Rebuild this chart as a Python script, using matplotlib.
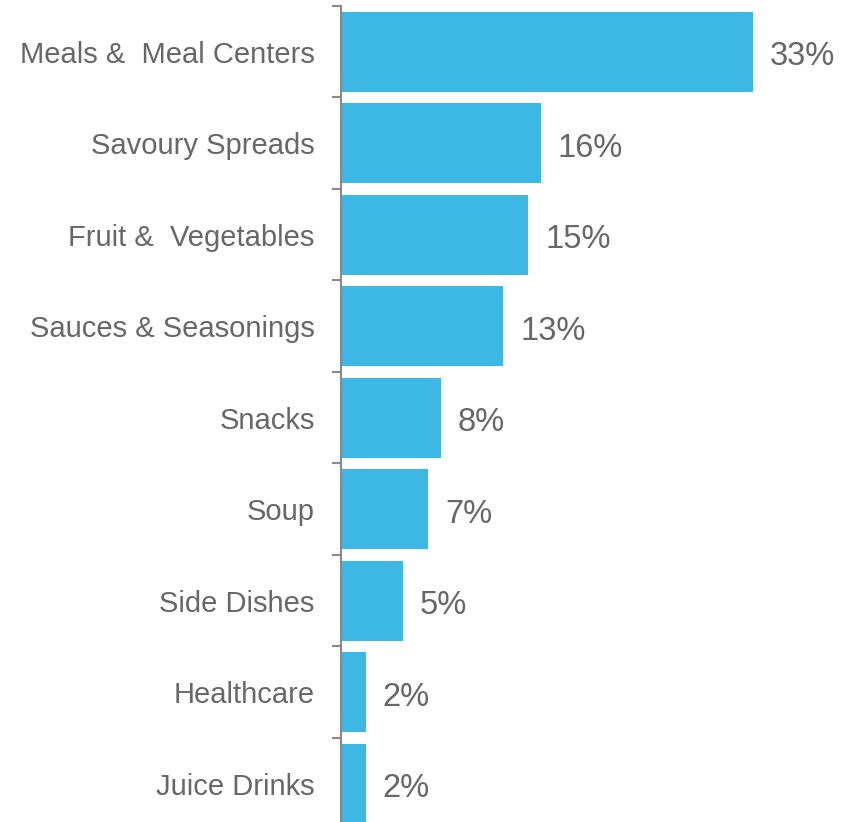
import matplotlib
matplotlib.use("Agg")
import matplotlib.pyplot as plt
from matplotlib import font_manager
import numpy as np

categories = ["Meals &  Meal Centers", "Savoury Spreads", "Fruit &  Vegetables",
              "Sauces & Seasonings", "Snacks", "Soup", "Side Dishes",
              "Healthcare", "Juice Drinks"]
shares = [33, 16, 15, 13, 8, 7, 5, 2, 2]
value_labels = [f"{v}%" for v in shares]

bar_color = "#3DB7E4"
text_color = "#676767"
axis_color = "#898989"

names = sorted({f.name for f in font_manager.fontManager.ttflist})
family = "Liberation Sans" if "Liberation Sans" in names else "DejaVu Sans"
plt.rcParams["font.family"] = [family, "DejaVu Sans"]

fig = plt.figure(figsize=(8.52, 8.22), dpi=100)
ax = fig.add_axes([0.4002, -0.0091, 0.5998, 1.0018])

n = len(categories)
y = np.arange(n)
ax.barh(y, shares, height=0.875, color=bar_color, zorder=2)
ax.set_ylim(n - 0.5, -0.5)
ax.set_xlim(0, 40.9)

for yi, v, lab in zip(y, shares, value_labels):
    ax.annotate(lab, (v, yi), xytext=(12, -3.5), textcoords="offset points",
                va="center", ha="left", fontsize=23.5, color=text_color)

ax.set_yticks(y)
ax.set_yticklabels(categories, fontsize=21, color=text_color)
ax.tick_params(axis="y", which="major", length=0, pad=19)
ax.set_yticks(np.arange(-0.5, n, 1.0), minor=True)
ax.tick_params(axis="y", which="minor", length=6.5, width=1.5, color=axis_color)
ax.set_xticks([])

for side in ["top", "right", "bottom"]:
    ax.spines[side].set_visible(False)
ax.spines["left"].set_color(axis_color)
ax.spines["left"].set_linewidth(1.5)
ax.patch.set_alpha(0)

fig.savefig("out.png", dpi=100)
